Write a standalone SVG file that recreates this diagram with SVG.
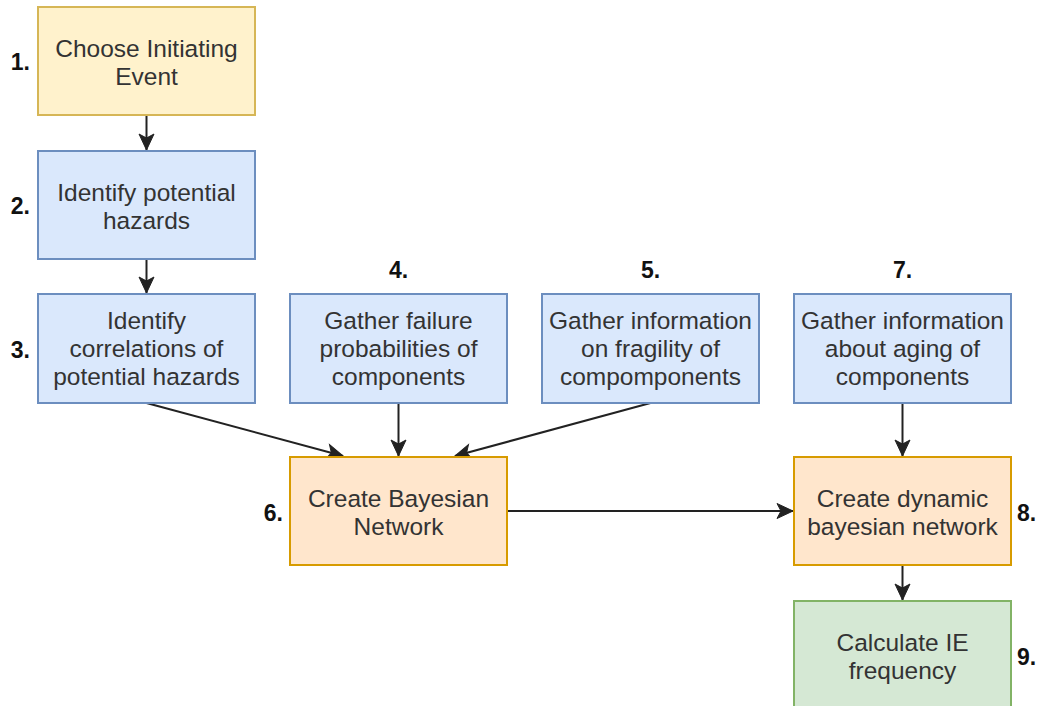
<svg xmlns="http://www.w3.org/2000/svg" width="1038" height="706" viewBox="0 0 1038 706">
  <style>
    .box { stroke-width: 2; }
    .yellow { fill: #fff2cc; stroke: #d6b656; }
    .blue { fill: #dae8fc; stroke: #6c8ebf; }
    .orange { fill: #ffe6cc; stroke: #d79b00; }
    .green { fill: #d5e8d4; stroke: #82b366; }
    .txt { font-family: "Liberation Sans", Arial, sans-serif; font-size: 24.5px; fill: #333333; text-anchor: middle; }
    .num { font-family: "Liberation Sans", Arial, sans-serif; font-size: 23px; font-weight: bold; fill: #111111; }
    .edge { fill: none; stroke: #222222; stroke-width: 2; marker-end: url(#arrow); }
  </style>
  <defs>
    <marker id="arrow" markerUnits="userSpaceOnUse" markerWidth="20" markerHeight="18" viewBox="-18 -9 20 18" refX="0" refY="0" orient="auto">
      <path d="M0,0 L-16,-7.5 L-12,0 L-16,7.5 Z" fill="#222222" stroke="#222222" stroke-width="1"/>
    </marker>
  </defs>
  <rect width="1038" height="706" fill="#ffffff"/>

  <!-- connectors -->
  <g id="connectors">
    <line class="edge" x1="146.5" y1="115" x2="146.5" y2="150"/>
    <line class="edge" x1="146.5" y1="259" x2="146.5" y2="293"/>
    <line class="edge" x1="146.5" y1="403" x2="343" y2="456"/>
    <line class="edge" x1="398.5" y1="403" x2="398.5" y2="456"/>
    <line class="edge" x1="650.5" y1="403" x2="455" y2="456"/>
    <line class="edge" x1="507" y1="511" x2="793" y2="511"/>
    <line class="edge" x1="902.5" y1="403" x2="902.5" y2="456"/>
    <line class="edge" x1="902.5" y1="565" x2="902.5" y2="600"/>
  </g>

  <g id="step1">
    <rect class="box yellow" x="38" y="7" width="217" height="108"/>
    <text class="txt" x="146.5" y="56.5">Choose Initiating</text>
    <text class="txt" x="146.5" y="84.5">Event</text>
    <text class="num" x="30" y="70" text-anchor="end">1.</text>
  </g>

  <g id="step2">
    <rect class="box blue" x="38" y="151" width="217" height="108"/>
    <text class="txt" x="146.5" y="200.5">Identify potential</text>
    <text class="txt" x="146.5" y="228.5">hazards</text>
    <text class="num" x="30" y="214" text-anchor="end">2.</text>
  </g>

  <g id="step3">
    <rect class="box blue" x="38" y="294" width="217" height="109"/>
    <text class="txt" x="146.5" y="329">Identify</text>
    <text class="txt" x="146.5" y="357">correlations of</text>
    <text class="txt" x="146.5" y="385">potential hazards</text>
    <text class="num" x="30" y="358" text-anchor="end">3.</text>
  </g>

  <g id="step4">
    <rect class="box blue" x="290" y="294" width="217" height="109"/>
    <text class="txt" x="398.5" y="329">Gather failure</text>
    <text class="txt" x="398.5" y="357">probabilities of</text>
    <text class="txt" x="398.5" y="385">components</text>
    <text class="num" x="398.5" y="278" text-anchor="middle">4.</text>
  </g>

  <g id="step5">
    <rect class="box blue" x="542" y="294" width="217" height="109"/>
    <text class="txt" x="650.5" y="329">Gather information</text>
    <text class="txt" x="650.5" y="357">on fragility of</text>
    <text class="txt" x="650.5" y="385">compomponents</text>
    <text class="num" x="650.5" y="278" text-anchor="middle">5.</text>
  </g>

  <g id="step6">
    <rect class="box orange" x="290" y="457" width="217" height="108"/>
    <text class="txt" x="398.5" y="506.5">Create Bayesian</text>
    <text class="txt" x="398.5" y="534.5">Network</text>
    <text class="num" x="283" y="521" text-anchor="end">6.</text>
  </g>

  <g id="step7">
    <rect class="box blue" x="794" y="294" width="217" height="109"/>
    <text class="txt" x="902.5" y="329">Gather information</text>
    <text class="txt" x="902.5" y="357">about aging of</text>
    <text class="txt" x="902.5" y="385">components</text>
    <text class="num" x="902.5" y="278" text-anchor="middle">7.</text>
  </g>

  <g id="step8">
    <rect class="box orange" x="794" y="457" width="217" height="108"/>
    <text class="txt" x="902.5" y="506.5">Create dynamic</text>
    <text class="txt" x="902.5" y="534.5">bayesian network</text>
    <text class="num" x="1017" y="521">8.</text>
  </g>

  <g id="step9">
    <rect class="box green" x="794" y="601" width="217" height="108"/>
    <text class="txt" x="902.5" y="650.5">Calculate IE</text>
    <text class="txt" x="902.5" y="678.5">frequency</text>
    <text class="num" x="1017" y="665">9.</text>
  </g>
</svg>
